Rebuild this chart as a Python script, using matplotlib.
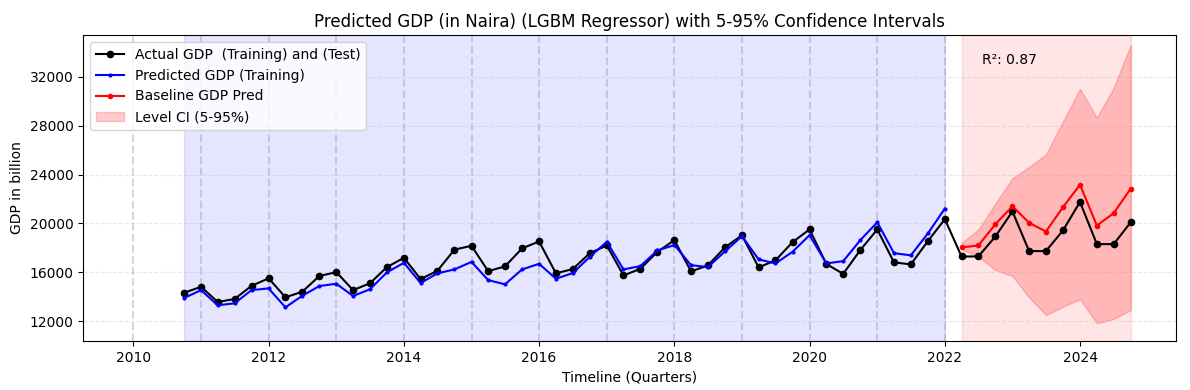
import numpy as np
import pandas as pd
import matplotlib.pyplot as plt

# quarterly dates
train_dates = pd.date_range('2010-10-01', periods=46, freq='QS')
test_dates = pd.date_range('2022-04-01', periods=11, freq='QS')

actual_train = [14330, 14820, 13580, 13820, 14900, 15510, 13960, 14420, 15700, 16020,
                14550, 15100, 16430, 17190, 15450, 16130, 17860, 18170, 16100, 16490,
                17960, 18530, 15920, 16270, 17570, 18200, 15750, 16290, 17680, 18630,
                16080, 16570, 18040, 19040, 16410, 16980, 18470, 19510, 16680, 15880,
                17820, 19510, 16820, 16650, 18550, 20350]
pred_train = [13900, 14550, 13310, 13470, 14550, 14690, 13140, 14090, 14880, 15070,
              14070, 14610, 16000, 16780, 15130, 15920, 16240, 16860, 15370, 15020,
              16240, 16700, 15480, 15940, 17270, 18500, 16240, 16510, 17790, 18230,
              16590, 16430, 17710, 18960, 17060, 16730, 17680, 19040, 16730, 16920,
              18630, 20100, 17570, 17390, 19180, 21220]

actual_test = [17300, 17300, 18940, 20980, 17740, 17740, 19430, 21760, 18310, 18310, 20100]
baseline_pred = [18040, 18200, 19940, 21410, 20050, 19340, 21330, 23170, 19830, 20840, 22850]
ci_lower = [17900, 17270, 16190, 15700, 13950, 12510, 13190, 13800, 11840, 12200, 12920]
ci_upper = [18400, 19500, 21630, 23700, 24620, 25650, 28350, 31010, 28650, 31100, 34600]

year_lines = pd.date_range('2010-01-01', '2022-01-01', freq='YS')

fig, ax = plt.subplots(figsize=(11.9, 3.9))

ax.axvspan(train_dates[0], train_dates[-1], color='blue', alpha=0.1)
ax.axvspan(test_dates[0], test_dates[-1], color='red', alpha=0.1)
for d in year_lines:
    ax.axvline(d, color='gray', linestyle='--', alpha=0.3, linewidth=1.5)

ax.plot(list(train_dates) + list(test_dates), actual_train + actual_test,
        color='black', marker='o', markersize=4.5, label='Actual GDP  (Training) and (Test)')
ax.plot(train_dates, pred_train, color='blue', marker='o', markersize=2,
        label='Predicted GDP (Training)')
ax.plot(test_dates, baseline_pred, color='red', marker='o', markersize=3,
        label='Baseline GDP Pred')
ax.fill_between(test_dates, ci_lower, ci_upper, color='red', alpha=0.2,
                label='Level CI (5-95%)')

ax.text(pd.Timestamp('2022-07-20'), 33400, 'R²: 0.87', fontsize=10, va='center')

ax.set_yticks(np.arange(12000, 32001, 4000))
ax.set_ylim(10400, 35400)
ax.set_xlim(pd.Timestamp('2009-04-05'), pd.Timestamp('2025-06-01'))
ax.grid(True, axis='y', linestyle='--', alpha=0.3)
ax.set_title('Predicted GDP (in Naira) (LGBM Regressor) with 5-95% Confidence Intervals')
ax.set_xlabel('Timeline (Quarters)')
ax.set_ylabel('GDP in billion')
ax.legend(loc='upper left')

plt.subplots_adjust(left=0.07, right=0.988, top=0.91, bottom=0.126)
plt.savefig('out.png', dpi=100)
